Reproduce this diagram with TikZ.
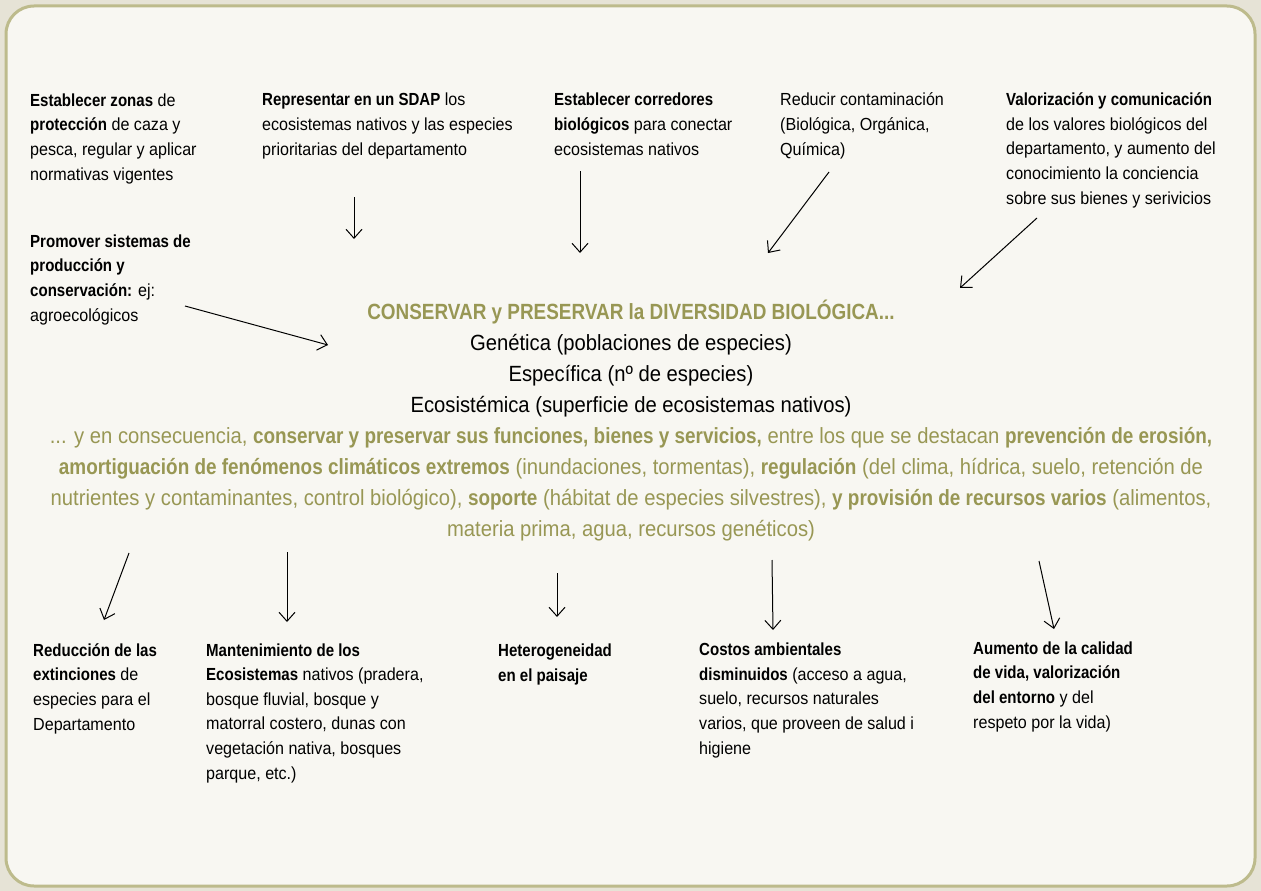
\documentclass[tikz,border=0pt]{standalone}
\usepackage{fontspec}
\setmainfont{Liberation Sans}[FakeStretch=0.92, BoldFeatures={FakeStretch=0.86}]
\usepackage{xcolor}
\usepackage{tikz}
\usetikzlibrary{positioning, arrows.meta}

\definecolor{oliva}{RGB}{152,151,84}
\definecolor{borde}{RGB}{189,187,140}
\definecolor{papel}{RGB}{248,247,242}
\definecolor{fondo}{RGB}{230,227,214}

% nodes are anchored at the baseline of their last line
\tikzset{
	accion/.style={anchor=base west, align=left, inner sep=0pt, font=\fontsize{17.5}{24.6}\selectfont},
	centro/.style={anchor=base, align=center, inner sep=0pt, font=\fontsize{22}{31}\selectfont},
	flecha/.style={->, line width=1pt},
}

\begin{document}
\begin{tikzpicture}[x=1pt, y=-1pt, >={Straight Barb[length=9pt, width=16pt]}]
		\fill[fondo] (0,0) rectangle (1261,891);
		\useasboundingbox (0,0) rectangle (1261,891);
		\draw[borde, line width=3pt, fill=papel, rounded corners=28pt] (6,6) rectangle (1255,886);
		
		% acciones
		\node[accion] (zonas) at (30,180) {\textbf{Establecer zonas} de\\ \textbf{protección} de caza y\\ pesca, regular y aplicar\\ normativas vigentes};
		\node[accion] (sdap) at (262,155) {\textbf{Representar en un SDAP} los\\ ecosistemas nativos y las especies\\ prioritarias del departamento};
		\node[accion] (corredores) at (554,155) {\textbf{Establecer corredores}\\ \textbf{biológicos} para conectar\\ ecosistemas nativos};
		\node[accion] (contaminacion) at (780,155) {Reducir contaminación\\ (Biológica, Orgánica,\\ Química)};
		\node[accion] (valorizacion) at (1006,204) {\textbf{Valorización y comunicación}\\ de los valores biológicos del\\ departamento, y aumento del\\ conocimiento la conciencia\\ sobre sus bienes y serivicios};
		\node[accion] (promover) at (30,321) {\textbf{Promover sistemas de}\\ \textbf{producción y}\\ \textbf{conservación:} ej:\\ agroecológicos};
		
		% centro
		\node[centro] (diversidad) at (631,412) {\textcolor{oliva}{\textbf{CONSERVAR y PRESERVAR la DIVERSIDAD BIOLÓGICA...}}\\ Genética (poblaciones de especies)\\ Específica (nº de especies)\\ Ecosistémica (superficie de ecosistemas nativos)};
		\node[centro, text=oliva] (consecuencia) at (631,536) {... y en consecuencia, \textbf{conservar y preservar sus funciones, bienes y servicios,} entre los que se destacan \textbf{prevención de erosión,}\\ \textbf{amortiguación de fenómenos climáticos extremos} (inundaciones, tormentas), \textbf{regulación} (del clima, hídrica, suelo, retención de\\ nutrientes y contaminantes, control biológico), \textbf{soporte} (hábitat de especies silvestres), \textbf{y provisión de recursos varios} (alimentos,\\ materia prima, agua, recursos genéticos)};
		
		% resultados
		\node[accion] (extinciones) at (33,730) {\textbf{Reducción de las}\\ \textbf{extinciones} de\\ especies para el\\ Departamento};
		\node[accion] (ecosistemas) at (206,779) {\textbf{Mantenimiento de los}\\ \textbf{Ecosistemas} nativos (pradera,\\ bosque fluvial, bosque y\\ matorral costero, dunas con\\ vegetación nativa, bosques\\ parque, etc.)};
		\node[accion] (paisaje) at (498,681) {\textbf{Heterogeneidad}\\ \textbf{en el paisaje}};
		\node[accion] (costos) at (699,754) {\textbf{Costos ambientales}\\ \textbf{disminuidos} (acceso a agua,\\ suelo, recursos naturales\\ varios, que proveen de salud i\\ higiene};
		\node[accion] (calidad) at (973,728) {\textbf{Aumento de la calidad}\\ \textbf{de vida, valorización}\\ \textbf{del entorno} y del\\ respeto por la vida)};
		
		% extremos de las flechas
		\coordinate (sdap a) at (354,197);       \coordinate (sdap b) at (354,239);
		\coordinate (corredores a) at (580,171); \coordinate (corredores b) at (580,253);
		\coordinate (contam a) at (829,172);     \coordinate (contam b) at (768,253);
		\coordinate (valor a) at (1037,218);     \coordinate (valor b) at (960,288);
		\coordinate (promover a) at (185,306);   \coordinate (promover b) at (328,345);
		\coordinate (ext a) at (129,553);        \coordinate (ext b) at (104,620);
		\coordinate (eco a) at (287,552);        \coordinate (eco b) at (287,622);
		\coordinate (pai a) at (557,573);        \coordinate (pai b) at (557,617);
		\coordinate (cos a) at (772,560);        \coordinate (cos b) at (773,630);
		\coordinate (cal a) at (1039,561);       \coordinate (cal b) at (1054,629);
		
		\draw[flecha] (sdap a)--(sdap b);
		\draw[flecha] (corredores a)--(corredores b);
		\draw[flecha] (contam a)--(contam b);
		\draw[flecha] (valor a)--(valor b);
		\draw[flecha] (promover a)--(promover b);
		\draw[flecha] (ext a)--(ext b);
		\draw[flecha] (eco a)--(eco b);
		\draw[flecha] (pai a)--(pai b);
		\draw[flecha] (cos a)--(cos b);
		\draw[flecha] (cal a)--(cal b);
	\end{tikzpicture}
\end{document}
